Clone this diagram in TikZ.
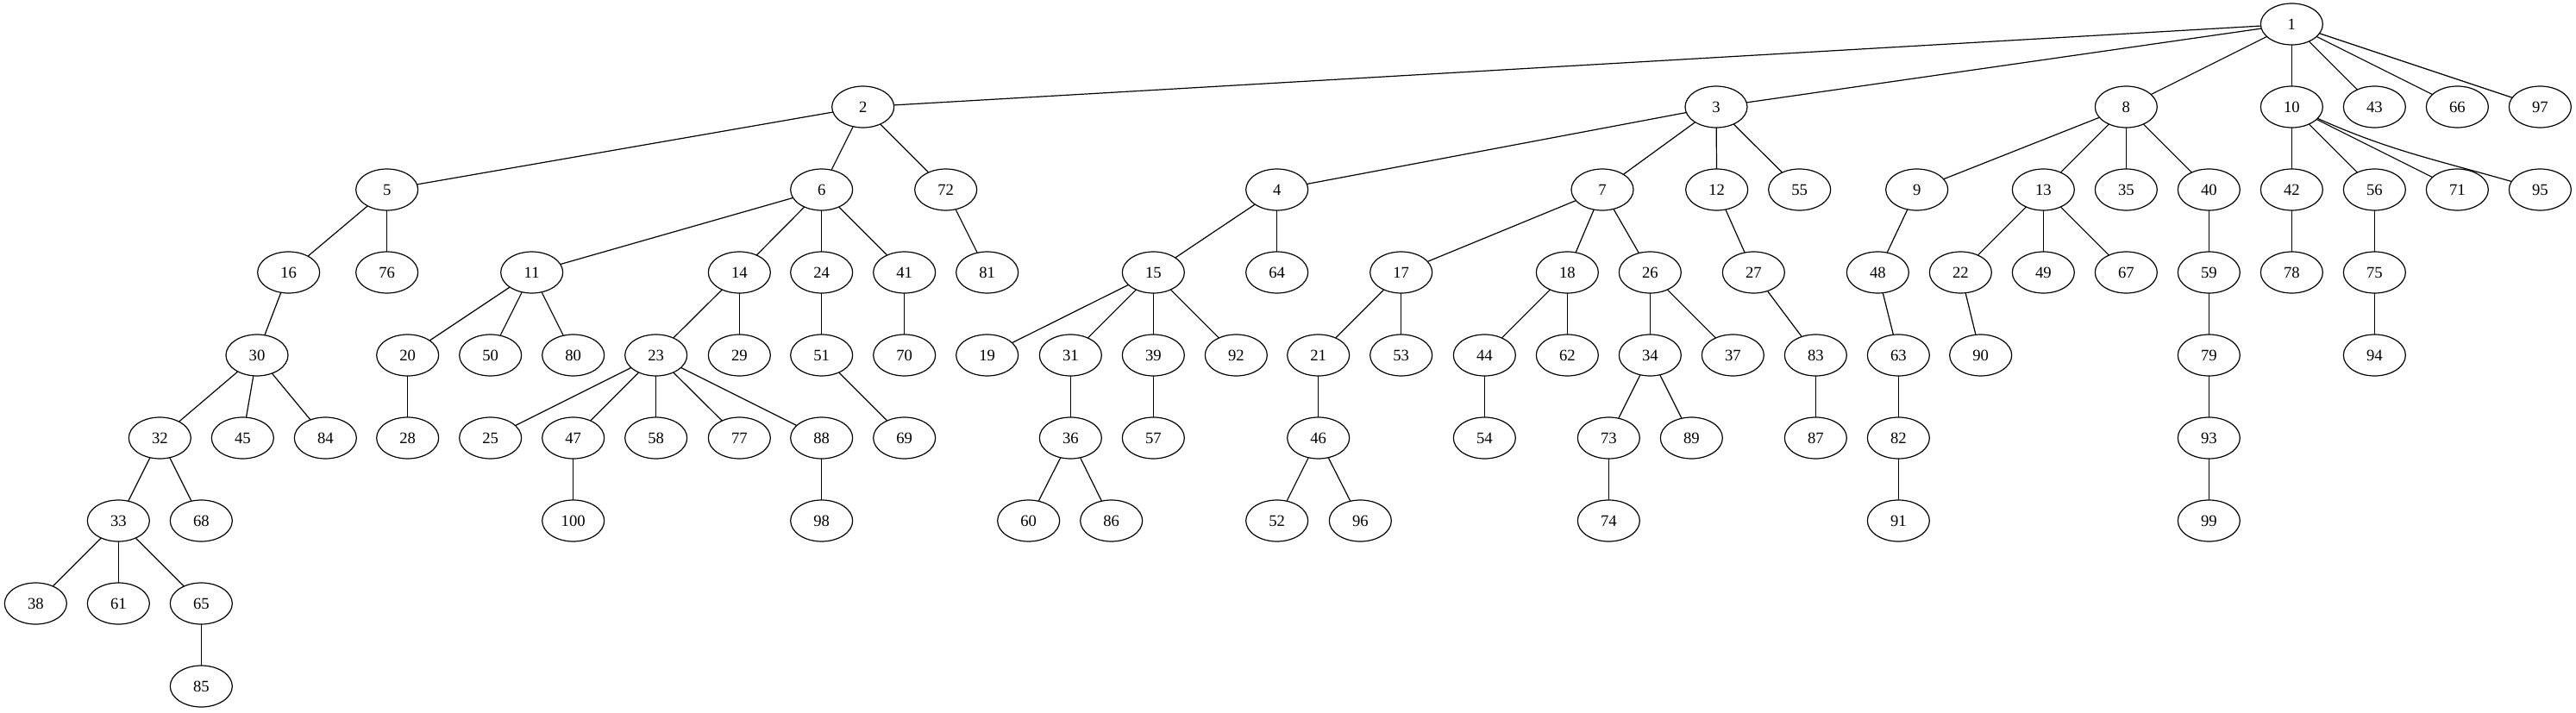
\documentclass[tikz,border=0pt]{standalone}
\usepackage{fontspec}
\setmainfont{Liberation Serif}
\usetikzlibrary{shapes.geometric}

\begin{document}
\begin{tikzpicture}[x=1pt,y=1pt,line cap=round,line join=round,
  vtx/.style={draw,ellipse,line width=0.9pt,minimum width=54pt,minimum height=36pt,inner sep=0pt,
    font=\fontsize{14}{14}\selectfont},
  edge/.style={line width=0.9pt}]
  \useasboundingbox (0,21) rectangle (2240.25,-599.25);
  % rank 0
  \node[vtx] (n1) at (1993,0) {1};
  % rank 1
  \foreach \n/\x in {2/750.5,3/1492.5,8/1849,10/1993,43/2065,66/2137,97/2209}
    \node[vtx] (n\n) at (\x,-72) {\n};
  % rank 2
  \foreach \n/\x in {5/336.5,6/714.5,72/822.5,4/1110.5,7/1393.5,12/1493,55/1565,9/1667,
      13/1777,35/1849,40/1921,42/1993,56/2065,71/2137,95/2209}
    \node[vtx] (n\n) at (\x,-144) {\n};
  % rank 3
  \foreach \n/\x in {16/251,76/336.5,11/462.5,14/643,24/714.5,41/786.5,81/858.5,15/1003,
      64/1110.5,17/1218.5,18/1363,26/1435,27/1525,48/1633,22/1705,49/1777,67/1849,
      59/1921,78/1993,75/2065}
    \node[vtx] (n\n) at (\x,-216) {\n};
  % rank 4
  \foreach \n/\x in {30/223.5,20/354.5,50/426.5,80/498.5,23/570.5,29/643,51/714.5,70/786.5,
      19/858.5,31/931,39/1003,92/1075,21/1146.5,53/1218.5,44/1291,62/1363,34/1435,
      37/1507,83/1579,63/1651,90/1722.5,79/1921,94/2065}
    \node[vtx] (n\n) at (\x,-288) {\n};
  % rank 5
  \foreach \n/\x in {32/139,45/211,84/283,28/354.5,25/426.5,47/498.5,58/570.5,77/643,
      88/714.5,69/786.5,36/931,57/1003,46/1146.5,54/1291,73/1399,89/1471,87/1579,
      82/1651,93/1921}
    \node[vtx] (n\n) at (\x,-360) {\n};
  % rank 6
  \foreach \n/\x in {33/103,68/175,100/498.5,98/714.5,60/894.5,86/966.5,52/1110.5,
      96/1183,74/1399,91/1651,99/1921}
    \node[vtx] (n\n) at (\x,-432) {\n};
  % rank 7 and 8
  \foreach \n/\x in {38/31,61/103,65/175}
    \node[vtx] (n\n) at (\x,-504) {\n};
  \node[vtx] (n85) at (175,-576) {85};

  % tree edges
  \foreach \a/\b in {1/2,1/3,1/8,1/10,1/43,1/66,1/97,2/5,2/6,2/72,3/4,3/7,3/12,3/55,
      8/9,8/13,8/35,8/40,10/42,10/56,10/71,5/16,5/76,6/11,6/14,6/24,6/41,72/81,
      4/15,4/64,7/17,7/18,7/26,12/27,9/48,13/22,13/49,13/67,40/59,42/78,56/75,
      16/30,11/20,11/50,11/80,14/23,14/29,24/51,41/70,15/19,15/31,15/39,15/92,
      17/21,17/53,18/44,18/62,26/34,26/37,27/83,48/63,22/90,59/79,75/94,
      30/32,30/45,30/84,20/28,23/25,23/47,23/58,23/77,23/88,51/69,31/36,39/57,
      21/46,44/54,34/73,34/89,83/87,63/82,79/93,32/33,32/68,47/100,88/98,
      36/60,36/86,46/52,46/96,73/74,82/91,93/99,33/38,33/61,33/65,65/85}
    \draw[edge] (n\a) -- (n\b);
  \draw[edge] (n10) to[out=-24,in=164] (n95);
\end{tikzpicture}
\end{document}
